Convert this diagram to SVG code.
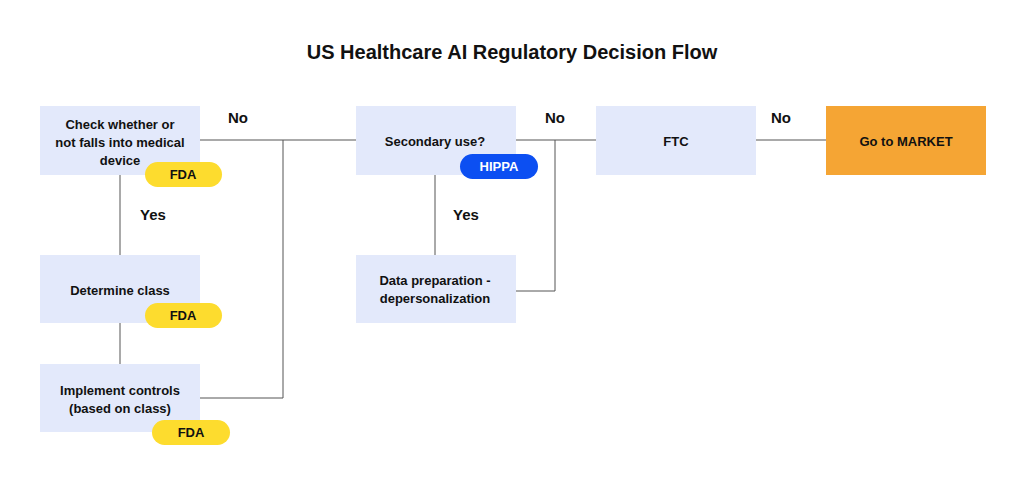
<svg xmlns="http://www.w3.org/2000/svg" width="1024" height="485" viewBox="0 0 1024 485">
<style>
text{font-family:"Liberation Sans",Arial,sans-serif;font-weight:bold;fill:#111;text-anchor:middle}
.box{fill:#e3e9fb}
.t{font-size:13px}
.lbl{font-size:15px}
.fda{fill:#fddc2e}
.hip{fill:#0c4ff2}
.con{stroke:#555;stroke-width:1;fill:none}
</style>
<rect width="1024" height="485" fill="#fff"/>
<text x="512" y="59" font-size="20">US Healthcare AI Regulatory Decision Flow</text>
<g id="connectors">
<path class="con" d="M120 175V255M120 323V364M200 398H283V140M200 140H356M435 175V255M516 291H555V140M516 140H596M756 140H826"/>
<text class="lbl" x="238" y="123">No</text>
<text class="lbl" x="153" y="220">Yes</text>
<text class="lbl" x="466" y="220">Yes</text>
<text class="lbl" x="555" y="123">No</text>
<text class="lbl" x="781" y="123">No</text>
</g>
<g id="check">
<rect class="box" x="40" y="106" width="160" height="69"/>
<text class="t" x="120" y="129">Check whether or</text>
<text class="t" x="120" y="147">not falls into medical</text>
<text class="t" x="120" y="165">device</text>
<rect class="fda" x="145" y="162" width="77" height="25" rx="12.5"/>
<text class="t" x="183" y="179">FDA</text>
</g>
<g id="class">
<rect class="box" x="40" y="255" width="160" height="68"/>
<text class="t" x="120" y="295">Determine class</text>
<rect class="fda" x="145" y="303" width="77" height="25" rx="12.5"/>
<text class="t" x="183" y="320">FDA</text>
</g>
<g id="controls">
<rect class="box" x="40" y="364" width="160" height="68"/>
<text class="t" x="120" y="395">Implement controls</text>
<text class="t" x="120" y="413">(based on class)</text>
<rect class="fda" x="152" y="420" width="78" height="25" rx="12.5"/>
<text class="t" x="191" y="437">FDA</text>
</g>
<g id="secondary">
<rect class="box" x="356" y="106" width="160" height="69"/>
<text class="t" x="435" y="146">Secondary use?</text>
<rect class="hip" x="460" y="154" width="78" height="25" rx="12.5"/>
<text class="t" x="499" y="171" style="fill:#fff">HIPPA</text>
</g>
<g id="dataprep">
<rect class="box" x="356" y="255" width="160" height="68"/>
<text class="t" x="435" y="285">Data preparation -</text>
<text class="t" x="435" y="303">depersonalization</text>
</g>
<g id="ftc">
<rect class="box" x="596" y="106" width="160" height="69"/>
<text class="t" x="676" y="146">FTC</text>
</g>
<g id="market">
<rect x="826" y="106" width="160" height="69" fill="#f5a534"/>
<text class="t" x="906" y="146">Go to MARKET</text>
</g>
</svg>
